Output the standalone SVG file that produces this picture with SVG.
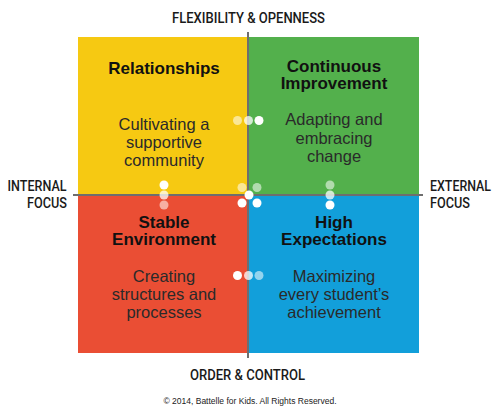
<svg xmlns="http://www.w3.org/2000/svg" width="500" height="413" viewBox="0 0 500 413">
<style>
.title{font-family:"Liberation Sans",Arial,sans-serif;font-weight:bold;font-size:17px;fill:#111;text-anchor:middle}
.body{font-family:"Liberation Sans",Arial,sans-serif;font-size:16.5px;fill:#2a2a2a;text-anchor:middle}
.axis{font-family:Roboto,"Liberation Sans",sans-serif;font-weight:500;font-size:15px;fill:#1a1a1a}
.copy{font-family:"Liberation Sans",Arial,sans-serif;font-size:8.5px;fill:#222;text-anchor:middle}
.dot{fill:#fff}
.axisline{stroke:#6e6e6e;stroke-width:2;fill:none}
</style>
<rect width="500" height="413" fill="#fff"/>
<g id="relationships">
<rect x="78" y="37" width="170" height="158" fill="#F6C912"/>
<text class="title" x="164" y="74">Relationships</text>
<text class="body" x="164" y="130">Cultivating a</text>
<text class="body" x="164" y="148">supportive</text>
<text class="body" x="164" y="166">community</text>
</g>
<g id="continuous-improvement">
<rect x="248" y="37" width="171" height="158" fill="#53B04C"/>
<text class="title" x="334" y="72">Continuous</text>
<text class="title" x="334" y="89">Improvement</text>
<text class="body" x="334" y="125">Adapting and</text>
<text class="body" x="334" y="144">embracing</text>
<text class="body" x="334" y="162">change</text>
</g>
<g id="stable-environment">
<rect x="78" y="195" width="170" height="158" fill="#EA4E34"/>
<text class="title" x="164" y="228">Stable</text>
<text class="title" x="164" y="245">Environment</text>
<text class="body" x="164" y="282">Creating</text>
<text class="body" x="164" y="300">structures and</text>
<text class="body" x="164" y="318">processes</text>
</g>
<g id="high-expectations">
<rect x="248" y="195" width="171" height="158" fill="#129FDA"/>
<text class="title" x="334" y="228">High</text>
<text class="title" x="334" y="245">Expectations</text>
<text class="body" x="334" y="282">Maximizing</text>
<text class="body" x="334" y="300">every student’s</text>
<text class="body" x="334" y="318">achievement</text>
</g>
<g id="connectors">
<line class="axisline" x1="248" y1="32" x2="248" y2="358"/>
<line class="axisline" x1="73" y1="195" x2="423" y2="195"/>
<g id="dots-top">
<circle class="dot" cx="237.5" cy="120.5" r="4.5" opacity="0.55"/>
<circle class="dot" cx="248.5" cy="120.5" r="4.5" opacity="0.75"/>
<circle class="dot" cx="259" cy="120.5" r="4.5"/>
</g>
<g id="dots-left">
<circle class="dot" cx="164" cy="185" r="4.5"/>
<circle class="dot" cx="164" cy="195" r="4.5" opacity="0.75"/>
<circle class="dot" cx="164" cy="205" r="4.5" opacity="0.55"/>
</g>
<g id="dots-right">
<circle class="dot" cx="330" cy="185" r="4.5" opacity="0.55"/>
<circle class="dot" cx="330" cy="195" r="4.5" opacity="0.75"/>
<circle class="dot" cx="330" cy="205" r="4.5"/>
</g>
<g id="dots-bottom">
<circle class="dot" cx="237.5" cy="275.5" r="4.5"/>
<circle class="dot" cx="248.5" cy="275.5" r="4.5" opacity="0.75"/>
<circle class="dot" cx="259" cy="275.5" r="4.5" opacity="0.55"/>
</g>
<g id="dots-center">
<circle class="dot" cx="242" cy="187.5" r="4.5" opacity="0.55"/>
<circle class="dot" cx="257" cy="187.5" r="4.5" opacity="0.55"/>
<circle class="dot" cx="249" cy="195" r="4.5"/>
<circle class="dot" cx="242" cy="203" r="4.5"/>
<circle class="dot" cx="257" cy="203" r="4.5"/>
</g>
</g>
<g id="axis-labels">
<text class="axis" x="172" y="22.5" textLength="153" lengthAdjust="spacingAndGlyphs">FLEXIBILITY &amp; OPENNESS</text>
<text class="axis" x="190" y="379.5" textLength="115" lengthAdjust="spacingAndGlyphs">ORDER &amp; CONTROL</text>
<text class="axis" x="7.5" y="190.5" textLength="59" lengthAdjust="spacingAndGlyphs">INTERNAL</text>
<text class="axis" x="27" y="207.5" textLength="40" lengthAdjust="spacingAndGlyphs">FOCUS</text>
<text class="axis" x="430" y="190.5" textLength="61" lengthAdjust="spacingAndGlyphs">EXTERNAL</text>
<text class="axis" x="430" y="207.5" textLength="40" lengthAdjust="spacingAndGlyphs">FOCUS</text>
</g>
<text class="copy" x="250" y="404">© 2014, Battelle for Kids. All Rights Reserved.</text>
</svg>
